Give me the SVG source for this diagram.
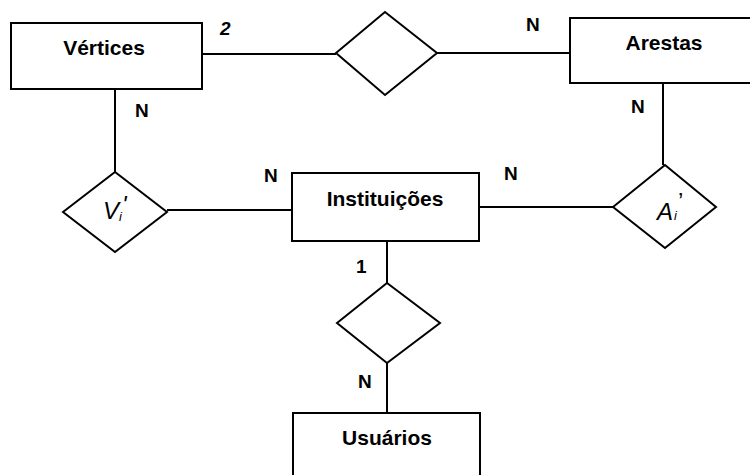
<svg xmlns="http://www.w3.org/2000/svg" width="750" height="475" viewBox="0 0 750 475">
  <style>
    .ent { fill: #fff; stroke: #000; stroke-width: 2; }
    .rel { fill: #fff; stroke: #000; stroke-width: 2; stroke-linejoin: miter; }
    .conn line { stroke: #000; stroke-width: 2; }
    .name { font-family: "Liberation Sans", Arial, sans-serif; font-weight: bold; font-size: 21px; text-anchor: middle; fill: #000; }
    .card { font-family: "Liberation Sans", Arial, sans-serif; font-weight: bold; font-size: 19px; fill: #000; }
    .rl { font-family: "Liberation Sans", Arial, sans-serif; font-style: italic; font-size: 24px; fill: #000; }
  </style>
  <rect width="750" height="475" fill="#fff"/>

  <!-- connectors -->
  <g id="connectors" class="conn">
    <line x1="202" y1="54" x2="336" y2="54"/>
    <line x1="437" y1="53" x2="570" y2="53"/>
    <line x1="663" y1="83" x2="663" y2="165"/>
    <line x1="479" y1="207" x2="613" y2="207"/>
    <line x1="115" y1="89" x2="115" y2="172"/>
    <line x1="167" y1="210" x2="292" y2="210"/>
    <line x1="387" y1="241" x2="387" y2="283"/>
    <line x1="387" y1="363" x2="387" y2="413"/>
  </g>

  <!-- entities -->
  <g id="vertices">
    <rect class="ent" x="11" y="23" width="191" height="66"/>
    <text class="name" x="104" y="55">Vértices</text>
  </g>
  <g id="arestas">
    <rect class="ent" x="570" y="18" width="190" height="65"/>
    <text class="name" x="664" y="50">Arestas</text>
  </g>
  <g id="instituicoes">
    <rect class="ent" x="292" y="173" width="187" height="68"/>
    <text class="name" x="385" y="206">Instituições</text>
  </g>
  <g id="usuarios">
    <rect class="ent" x="293" y="413" width="187" height="70"/>
    <text class="name" x="387" y="445">Usuários</text>
  </g>

  <!-- relationships -->
  <g id="rel-vertices-arestas">
    <polygon class="rel" points="336,53 385,12 437,53 385,95"/>
  </g>
  <g id="rel-vi">
    <polygon class="rel" points="63,212 115,172 167,212 115,252"/>
    <text class="rl" x="103" y="219">V<tspan font-size="13" dy="2">i</tspan><tspan dy="-8">'</tspan></text>
  </g>
  <g id="rel-ai">
    <polygon class="rel" points="613,207 665,165 716,207 665,248"/>
    <text class="rl" x="657" y="220">A<tspan font-size="13" dx="1">i</tspan><tspan font-style="normal" dx="1" dy="-10">’</tspan></text>
  </g>
  <g id="rel-inst-usuarios">
    <polygon class="rel" points="337,323 387,283 440,323 387,363"/>
  </g>

  <!-- cardinalities -->
  <g id="cardinalities">
    <text class="card" x="220" y="35" font-style="italic" font-size="20">2</text>
    <text class="card" x="526" y="31">N</text>
    <text class="card" x="135" y="117">N</text>
    <text class="card" x="631" y="113">N</text>
    <text class="card" x="264" y="182">N</text>
    <text class="card" x="504" y="180">N</text>
    <text class="card" x="356" y="273">1</text>
    <text class="card" x="358" y="388">N</text>
  </g>
</svg>
